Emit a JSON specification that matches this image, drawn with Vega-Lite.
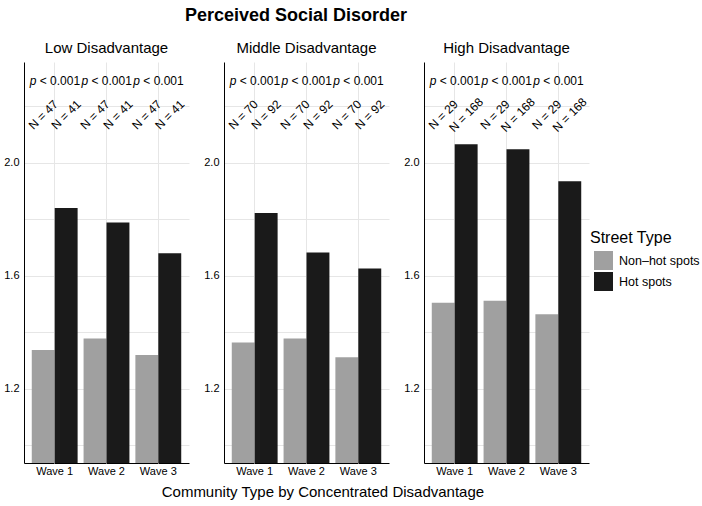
{
  "$schema": "https://vega.github.io/schema/vega-lite/v6.json",
  "padding": {"left": 3, "top": 7, "right": 4, "bottom": 4},
  "background": "white",
  "title": {"text": "Community Type by Concentrated Disadvantage", "orient": "bottom", "fontSize": 15, "fontWeight": "normal", "font": "Liberation Sans", "anchor": "start", "dx": 158, "color": "#000", "offset": 9},
  "data": {"values": [
    {"community": "Low Disadvantage", "wave": "Wave 1", "street": "Non–hot spots", "value": 1.338, "nlabel": "N = 47"},
    {"community": "Low Disadvantage", "wave": "Wave 1", "street": "Hot spots", "value": 1.840, "nlabel": "N = 41"},
    {"community": "Low Disadvantage", "wave": "Wave 2", "street": "Non–hot spots", "value": 1.379, "nlabel": "N = 47"},
    {"community": "Low Disadvantage", "wave": "Wave 2", "street": "Hot spots", "value": 1.789, "nlabel": "N = 41"},
    {"community": "Low Disadvantage", "wave": "Wave 3", "street": "Non–hot spots", "value": 1.320, "nlabel": "N = 47"},
    {"community": "Low Disadvantage", "wave": "Wave 3", "street": "Hot spots", "value": 1.680, "nlabel": "N = 41"},
    {"community": "Middle Disadvantage", "wave": "Wave 1", "street": "Non–hot spots", "value": 1.364, "nlabel": "N = 70"},
    {"community": "Middle Disadvantage", "wave": "Wave 1", "street": "Hot spots", "value": 1.823, "nlabel": "N = 92"},
    {"community": "Middle Disadvantage", "wave": "Wave 2", "street": "Non–hot spots", "value": 1.379, "nlabel": "N = 70"},
    {"community": "Middle Disadvantage", "wave": "Wave 2", "street": "Hot spots", "value": 1.683, "nlabel": "N = 92"},
    {"community": "Middle Disadvantage", "wave": "Wave 3", "street": "Non–hot spots", "value": 1.312, "nlabel": "N = 70"},
    {"community": "Middle Disadvantage", "wave": "Wave 3", "street": "Hot spots", "value": 1.626, "nlabel": "N = 92"},
    {"community": "High Disadvantage", "wave": "Wave 1", "street": "Non–hot spots", "value": 1.505, "nlabel": "N = 29"},
    {"community": "High Disadvantage", "wave": "Wave 1", "street": "Hot spots", "value": 2.066, "nlabel": "N = 168"},
    {"community": "High Disadvantage", "wave": "Wave 2", "street": "Non–hot spots", "value": 1.512, "nlabel": "N = 29"},
    {"community": "High Disadvantage", "wave": "Wave 2", "street": "Hot spots", "value": 2.048, "nlabel": "N = 168"},
    {"community": "High Disadvantage", "wave": "Wave 3", "street": "Non–hot spots", "value": 1.464, "nlabel": "N = 29"},
    {"community": "High Disadvantage", "wave": "Wave 3", "street": "Hot spots", "value": 1.935, "nlabel": "N = 168"}
  ]},
  "facet": {
    "column": {
      "field": "community",
      "type": "nominal",
      "sort": ["Low Disadvantage", "Middle Disadvantage", "High Disadvantage"],
      "title": "Perceived Social Disorder\u2003\u2003",
      "header": {
        "labelOrient": "top",
        "titleOrient": "top",
        "labelFontSize": 15,
        "labelFont": "Liberation Sans",
        "labelColor": "#000",
        "labelPadding": 6,
        "titleFontSize": 18,
        "titleFont": "Liberation Sans",
        "titleFontWeight": "bold",
        "titleColor": "#000",
        "titlePadding": 6
      }
    }
  },
  "spacing": 14,
  "spec": {
    "width": 165,
    "height": 401,
    "encoding": {
      "x": {
        "field": "wave",
        "type": "nominal",
        "title": null,
        "scale": {"paddingInner": 0.115, "paddingOuter": 0.15},
        "axis": {"labelAngle": 0, "ticks": false, "grid": true, "gridColor": "#e6e6e6", "domainColor": "#000", "labelFontSize": 11, "labelFont": "Liberation Sans", "labelColor": "#000", "labelPadding": 2}
      }
    },
    "layer": [
      {
        "mark": {"type": "bar", "clip": true},
        "encoding": {
          "xOffset": {"field": "street", "type": "nominal", "sort": ["Non–hot spots", "Hot spots"], "scale": {"paddingInner": 0, "paddingOuter": 0}},
          "y": {
            "field": "value",
            "type": "quantitative",
            "title": null,
            "scale": {"domain": [0.938, 2.357], "zero": false, "nice": false},
            "axis": {
              "values": [1.0, 1.2, 1.4, 1.6, 1.8, 2.0, 2.2],
              "labelExpr": "(round(datum.value*10) % 4 == 0) ? format(datum.value, '.1f') : ''",
              "ticks": false,
              "grid": true,
              "gridColor": "#e6e6e6",
              "domainColor": "#000",
              "labelFontSize": 11,
              "labelFont": "Liberation Sans",
              "labelColor": "#000",
              "labelPadding": 5
            }
          },
          "color": {
            "field": "street",
            "type": "nominal",
            "sort": ["Non–hot spots", "Hot spots"],
            "scale": {"domain": ["Non–hot spots", "Hot spots"], "range": ["#a0a0a0", "#1a1a1a"]},
            "legend": {
              "title": "Street Type",
              "orient": "none",
              "legendX": 566,
              "legendY": 168,
              "titleFontSize": 16,
              "titleFontWeight": "normal",
              "titleFont": "Liberation Sans",
              "titleColor": "#000",
              "labelFontSize": 12.5,
              "labelFont": "Liberation Sans",
              "labelColor": "#000",
              "labelOffset": 6,
              "symbolOffset": 4,
              "symbolType": "square",
              "symbolSize": 360,
              "symbolStrokeWidth": 0,
              "symbolOpacity": 1,
              "rowPadding": 2
            }
          }
        }
      },
      {
        "mark": {"type": "text", "angle": 315, "fontSize": 12, "font": "Liberation Sans", "color": "#000"},
        "encoding": {
          "xOffset": {"field": "street", "type": "nominal", "sort": ["Non–hot spots", "Hot spots"]},
          "y": {"datum": 2.17},
          "text": {"field": "nlabel"}
        }
      },
      {
        "transform": [{"filter": "datum.street == 'Hot spots'"}],
        "mark": {"type": "text", "fontSize": 12, "font": "Liberation Sans", "fontStyle": "italic", "align": "left", "dx": -25, "color": "#000"},
        "encoding": {
          "y": {"datum": 2.29},
          "text": {"value": "p"}
        }
      },
      {
        "transform": [{"filter": "datum.street == 'Hot spots'"}],
        "mark": {"type": "text", "fontSize": 12, "font": "Liberation Sans", "align": "left", "dx": -15, "color": "#000"},
        "encoding": {
          "y": {"datum": 2.29},
          "text": {"value": "< 0.001"}
        }
      }
    ]
  },
  "resolve": {"axis": {"y": "independent"}},
  "config": {
    "view": {"stroke": null},
    "font": "Liberation Sans"
  }
}
